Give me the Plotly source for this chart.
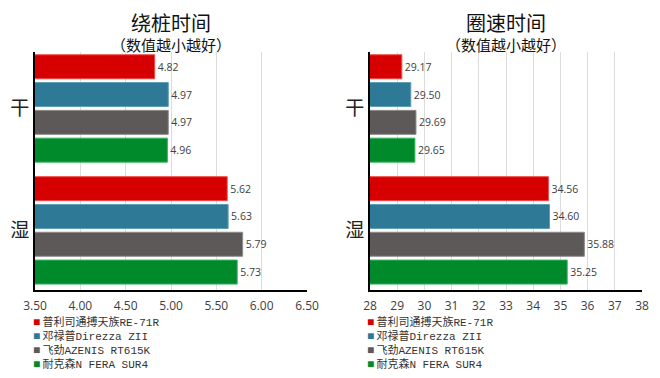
import plotly.graph_objects as go

conditions = ["干", "湿"]
tires = ["普利司通搏天族RE-71R", "邓禄普Direzza ZII", "飞劲AZENIS RT615K", "耐克森N FERA SUR4"]
colors = ["#D70000", "#2E7A96", "#5D5958", "#008A2C"]
line_colors = ["#EE4A4A", "#5C9DB6", "#8E8A89", "#35B25A"]

# 绕桩时间 (秒): [干, 湿]
slalom = [[4.82, 5.62], [4.97, 5.63], [4.97, 5.79], [4.96, 5.73]]
# 圈速时间 (秒): [干, 湿]
lap = [[29.17, 34.56], [29.50, 34.60], [29.69, 35.88], [29.65, 35.25]]

left_ticks = [3.5, 4.0, 4.5, 5.0, 5.5, 6.0, 6.5]
right_ticks = list(range(28, 39))

titles = ["绕桩时间", "圈速时间"]
subtitle = "（数值越小越好）"

CJK = "Noto Sans CJK SC, sans-serif"
LEG = "Liberation Mono, Noto Sans CJK SC, monospace"

# page body has an 8px margin: the figure is drawn at (8, 8)
OFF = 8
W, H = 660 - OFF, 378 - OFF


def px(x):
    return (x - OFF) / W


def py(y):
    return 1 - (y - OFF) / H


fig = go.Figure()

for data, xa, ya in [(slalom, "x", "y"), (lap, "x2", "y2")]:
    for i, name in enumerate(tires):
        fig.add_trace(go.Bar(
            y=conditions, x=data[i], orientation="h", name=name,
            xaxis=xa, yaxis=ya, showlegend=False,
            marker=dict(color=colors[i], line=dict(color=line_colors[i], width=1)),
            texttemplate="%{x:.2f}", textposition="outside",
            textfont=dict(size=10.5, color="#404040", family="Open Sans, sans-serif"),
            cliponaxis=False,
        ))

ytop, ybot = 52, 290
common_y = dict(
    type="category", range=[1.489, -0.463], showgrid=False, ticks="",
    showline=True, linecolor="black", linewidth=2, automargin=False,
    tickfont=dict(size=19, family=CJK, color="#222"), domain=[py(ybot), py(ytop)],
    zeroline=False,
)
common_x = dict(
    showgrid=True, gridcolor="#DCDCDC", gridwidth=1, ticks="", automargin=False,
    showline=True, linecolor="black", linewidth=2, zeroline=False, ticklabelstandoff=4,
    tickfont=dict(size=12, family="Open Sans, sans-serif", color="#404040"),
)

fig.update_layout(
    width=W, height=H, margin=dict(l=0, r=0, t=0, b=0, autoexpand=False),
    paper_bgcolor="white", plot_bgcolor="white",
    barmode="group", bargap=0.088, bargroupgap=0.137,
    xaxis=dict(common_x, domain=[px(35), px(307)], range=[3.5, 6.5], tickvals=left_ticks,
               tickformat=".2f", anchor="y"),
    yaxis=dict(common_y, anchor="x"),
    xaxis2=dict(common_x, domain=[px(370), px(642)], range=[28, 38], tickvals=right_ticks,
                anchor="y2"),
    yaxis2=dict(common_y, anchor="x2"),
    showlegend=False,
)

for cx, t in [(171, titles[0]), (506, titles[1])]:
    fig.add_annotation(
        x=px(cx), y=py(31), xref="paper", yref="paper",
        text=f"<span style='font-size:20px'>{t}</span><br>{subtitle}", borderpad=0,
        showarrow=False, font=dict(size=15, family=CJK, color="#111"),
        xanchor="center", yanchor="middle", align="center")

# legends (one per panel), built from the tire names and colours
legend_lines = [
    f"<span style='color:{colors[i]};font-size:12px;font-family:Liberation Mono'>■</span>"
    f"<span style='font-size:11px'>\u2009{name}</span>"
    for i, name in enumerate(tires)
]
for lx in [32, 366]:
    fig.add_annotation(
        x=px(lx), y=py(343), xref="paper", yref="paper",
        text="<br>".join(legend_lines),
        showarrow=False, borderpad=0, font=dict(size=10.8, family=LEG, color="#333"),
        xanchor="left", yanchor="middle", align="left")

fig.write_html("out.html")
